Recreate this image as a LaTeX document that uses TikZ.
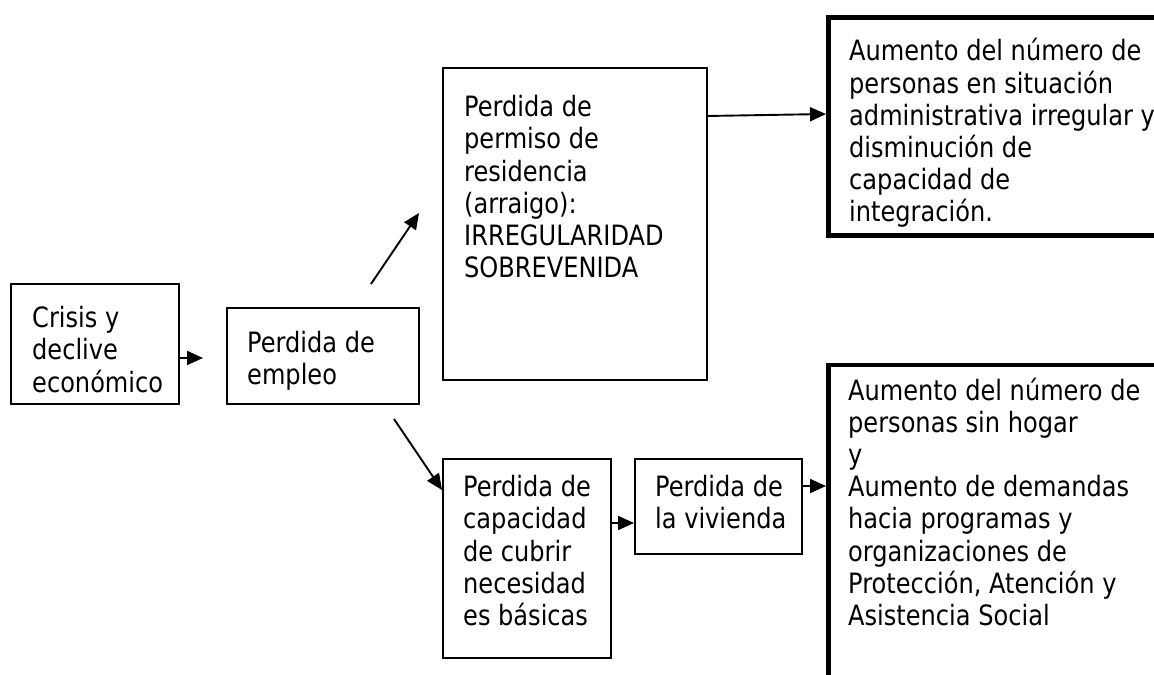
\documentclass[tikz,border=0pt]{standalone}
\usepackage{fontspec}
\setmainfont{DejaVu Sans}[FakeStretch=0.86]
\usetikzlibrary{arrows.meta}
\begin{document}
\begin{tikzpicture}[x=1bp,y=-1bp,
  box/.style={draw, line width=2.2bp, inner sep=0, outer sep=0, anchor=north west},
  bigbox/.style={draw, line width=4.2bp, inner sep=0, outer sep=0, anchor=north west},
  txt/.style={anchor=base west, inner sep=0, align=left, font=\fontsize{28bp}{32.2bp}\selectfont},
  arr/.style={-{Triangle[length=16bp,width=14bp]}, line width=1.9bp}]
\useasboundingbox (0,0) rectangle (1154,675);
% boxes
\node[box, minimum width=168bp, minimum height=120bp] (B1) at (11,284) {};
\node[box, minimum width=192bp, minimum height=96bp] (B2) at (227,308) {};
\node[box, minimum width=264bp, minimum height=312bp] (B3) at (443,68) {};
\node[bigbox, minimum width=400bp, minimum height=218bp] (B4) at (828.5,17.5) {};
\node[box, minimum width=168bp, minimum height=199bp] (B5) at (443,459) {};
\node[box, minimum width=167bp, minimum height=95bp] (B6) at (635,459) {};
\node[bigbox, minimum width=400bp, minimum height=400bp] (B7) at (828.5,365) {};
% texts (anchor = baseline of the last line)
\node[txt] (t1) at (32,392.1) {Crisis y\\declive\\económico};
\node[txt] (t2) at (247,384.2) {Perdida de\\empleo};
\node[txt] (t3) at (464,277.7) {Perdida de\\permiso de\\residencia\\(arraigo):\\IRREGULARIDAD\\SOBREVENIDA};
\node[txt] (t4) at (849,222) {Aumento del número de\\personas en situación\\administrativa irregular y\\disminución de\\capacidad de\\integración.};
\node[txt] (t5) at (463,625.5) {Perdida de\\capacidad\\de cubrir\\necesidad\\es básicas};
\node[txt] (t6) at (655,528.9) {Perdida de\\la vivienda};
\node[txt] (t7) at (848,625.4) {Aumento del número de\\personas sin hogar\\y\\Aumento de demandas\\hacia programas y\\organizaciones de\\Protección, Atención y\\Asistencia Social};
% arrow end points
\coordinate (a1e) at (203,358);
\coordinate (a2s) at (371,284);
\coordinate (a2e) at (419,213);
\coordinate (a3s) at (707,116);
\coordinate (a3e) at (826,114);
\coordinate (a4s) at (394,419);
\coordinate (a4e) at (442,490);
\coordinate (a5e) at (634,523);
\coordinate (a6e) at (826,486);
% arrows
\draw[arr] (B1.east |- a1e) -- (a1e);
\draw[arr] (a2s) -- (a2e);
\draw[arr] (B3.east |- a3s) -- (a3e);
\draw[arr] (a4s) -- (a4e);
\draw[arr] (B5.east |- a5e) -- (a5e);
\draw[arr] (B6.east |- a6e) -- (a6e);
\end{tikzpicture}
\end{document}
